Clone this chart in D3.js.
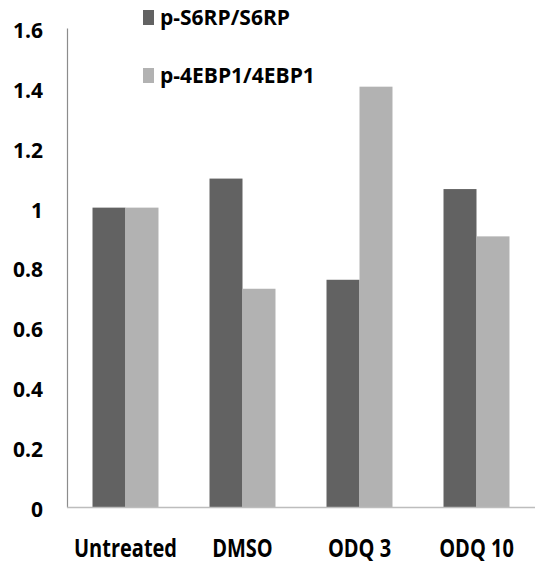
<!DOCTYPE html>
<html>
<head>
<meta charset="utf-8">
<script src="https://cdn.jsdelivr.net/npm/d3@7"></script>
<style>
  body { margin: 0; background: #fff; }
  svg text { font-family: "Open Sans", sans-serif; font-weight: bold; fill: #000; }
</style>
</head>
<body>
<svg id="chart" width="535" height="565"></svg>
<script>
const categories = ["Untreated", "DMSO", "ODQ 3", "ODQ 10"];
const seriesNames = ["p-S6RP/S6RP", "p-4EBP1/4EBP1"];
const s6rp = [1.0, 1.097, 0.759, 1.062];
const ebp1 = [1.0, 0.729, 1.404, 0.904];
const yTicks = [0, 0.2, 0.4, 0.6, 0.8, 1, 1.2, 1.4, 1.6];
const colors = ["#626262", "#b2b2b2"];

const svg = d3.select("#chart");
const plotLeft = 67, plotRight = 535, plotTop = 28, plotBottom = 507;

const x = d3.scaleBand().domain(categories).range([plotLeft, plotRight]).paddingInner(0.436).paddingOuter(0.218);
const xSub = d3.scaleBand().domain(seriesNames).range([0, x.bandwidth()]);
const y = d3.scaleLinear().domain([0, 1.6]).range([plotBottom, plotTop]);

const rows = categories.map((c, i) => ({ cat: c, vals: [s6rp[i], ebp1[i]] }));

// bars
const groups = svg.append("g").selectAll("g")
    .data(rows)
    .enter()
    .append("g")
    .attr("transform", (d) => `translate(${x(d.cat)},0)`);

groups.selectAll("rect")
    .data((d) => d.vals.map((v, j) => ({ name: seriesNames[j], v: v, j: j })))
    .enter()
    .append("rect")
    .attr("x", (d) => xSub(d.name))
    .attr("width", xSub.bandwidth())
    .attr("y", (d) => y(d.v))
    .attr("height", (d) => plotBottom - y(d.v))
    .attr("fill", (d) => colors[d.j]);

// y axis
const yAxis = svg.append("g")
    .attr("transform", `translate(${plotLeft},0)`)
    .call(d3.axisLeft(y).tickValues(yTicks).tickSize(0).tickPadding(24).tickFormat(d3.format("")));
yAxis.select(".domain").attr("stroke", "#8c8c8c").attr("stroke-width", 1.2);
yAxis.selectAll("text").style("font-size", "21px").attr("dy", "0.45em");

// baseline
svg.append("line")
    .attr("x1", plotLeft).attr("x2", plotRight)
    .attr("y1", plotBottom + 0.5).attr("y2", plotBottom + 0.5)
    .attr("stroke", "#bdbdbd").attr("stroke-width", 1.5);

// x labels (tall, narrow look)
svg.append("g").selectAll("text")
    .data(categories)
    .enter()
    .append("text")
    .attr("text-anchor", "middle")
    .attr("transform", (d) => `translate(${x(d) + x.bandwidth() / 2},557) scale(1,1.25)`)
    .style("font-size", "20px")
    .text((d) => d);

// legend
const legend = svg.append("g").selectAll("g")
    .data(seriesNames)
    .enter()
    .append("g")
    .attr("transform", (d, i) => `translate(143,${10 + i * 58})`);

legend.append("rect")
    .attr("width", 11)
    .attr("height", 15)
    .attr("fill", (d, i) => colors[i]);

legend.append("text")
    .attr("x", 17)
    .attr("y", 15)
    .style("font-size", "21px")
    .text((d) => d);
</script>
</body>
</html>
